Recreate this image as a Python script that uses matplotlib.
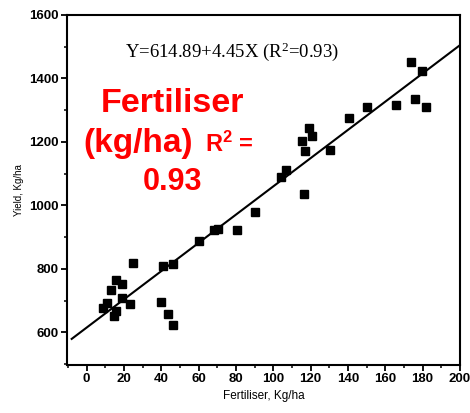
import matplotlib.pyplot as plt
from matplotlib.ticker import MultipleLocator

# fertiliser rate (kg/ha) and yield (kg/ha)
fertiliser = [8.6, 11, 13.2, 15.5, 19, 14.8, 15.5, 19, 23, 24.8,
              39.6, 40.8, 43.5, 46.3, 46.3, 60, 68, 70.2, 80.6, 90.2,
              104.3, 106.8, 116.7, 115.5, 117, 119.3, 121, 130.3, 140.5,
              150.3, 165.8, 174, 176, 179.5, 182]
yield_kg = [678, 692, 733, 766, 751, 651, 666, 708, 690, 819,
            697, 809, 659, 815, 623, 887, 924, 927, 923, 979,
            1090, 1113, 1037, 1202, 1172, 1245, 1219, 1174, 1276,
            1311, 1316, 1452, 1335, 1422, 1310]

intercept = 614.89
slope = 4.45
fit_x = [-8, 200]
fit_y = [intercept + slope * x for x in fit_x]

W, H = 470, 413
fig = plt.figure(figsize=(W / 100, H / 100), dpi=100)
ax = fig.add_axes([0.1426, 0.1162, 0.836, 0.8475])

ax.plot(fit_x, fit_y, color="black", lw=1.5)
ax.plot(fertiliser, yield_kg, ls="none", marker="s", ms=5.5, color="black")

ax.set_xlim(-10.5, 200)
ax.set_ylim(497, 1600)
ax.xaxis.set_major_locator(MultipleLocator(20))
ax.xaxis.set_minor_locator(MultipleLocator(10))
ax.yaxis.set_minor_locator(MultipleLocator(100))
ax.set_yticks([600, 800, 1000, 1200, 1400, 1600])

for s in ax.spines.values():
    s.set_linewidth(1.5)
ax.tick_params(which="major", direction="out", length=4, width=1.3,
               labelsize=9.5, pad=2)
ax.tick_params(which="minor", direction="out", length=2.5, width=1.1)
for lab in ax.get_xticklabels() + ax.get_yticklabels():
    lab.set_fontweight("bold")
    lab.set_family("Liberation Sans")

ax.set_xlabel("Fertiliser, Kg/ha", fontsize=8.5, family="Liberation Sans", labelpad=3)
ax.set_ylabel("Yield, Kg/ha", fontsize=7, family="Liberation Sans", labelpad=4)

ax.text(0.42, 0.895, "Y=614.89+4.45X (R$\\mathregular{^2}$=0.93)",
        transform=ax.transAxes, ha="center", va="center", fontsize=13.5,
        family="Liberation Serif")

# red annotation, placed in pixel positions of the original slide
red = "#ff0000"
big = dict(color=red, fontweight="bold", family="Liberation Sans", va="baseline")
fig.text(101 / W, 1 - 112 / H, "Fertiliser", ha="left", fontsize=24.5, **big)
fig.text(83 / W, 1 - 152 / H, "(kg/ha)", ha="left", fontsize=24, **big)
fig.text(205 / W, 1 - 152 / H, "R$\\mathregular{^2}$ =", ha="left", fontsize=17, **big)
fig.text(173 / W, 1 - 190 / H, "0.93", ha="center", fontsize=22, **big)

fig.savefig("out.png", dpi=100)
